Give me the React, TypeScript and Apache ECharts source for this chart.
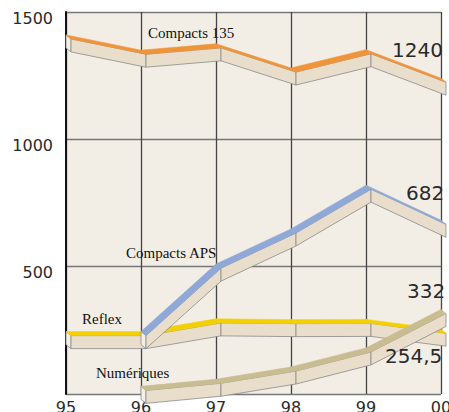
import React, { useEffect, useRef } from "react";
import * as echarts from "echarts";

const years = ["95", "96", "97", "98", "99", "00"];
const seriesNames = ["Compacts 135", "Reflex", "Numériques", "Compacts APS"];
const compacts135 = [1410, 1350, 1375, 1280, 1352, 1240];
const reflex = [245, 245, 295, 292, 293, 254.5];
const numeriques = [null, 30, 58, 106, 181, 332];
const compactsAPS = [null, 245, 510, 648, 820, 682];
const yTicks = [0, 500, 1000, 1500];

const allValues = [compacts135, reflex, numeriques, compactsAPS];
const topColors = ["#F0943A", "#F5D000", "#C8BC90", "#8FA8D8"];

const nameLabelPos: [number, number][] = [
  [148, 33],
  [82, 319],
  [96, 373],
  [126, 253],
];
const valueLabelPos: [number, number][] = [
  [392, 50],
  [385, 356],
  [407, 291],
  [406, 193],
];

const fmt = (v: number) => String(v).replace(".", ",");

function buildItems(vals: (number | null)[]) {
  const items: number[][] = [];
  const first = vals.findIndex((v) => v != null);
  items.push([first, vals[first] as number, first, vals[first] as number, 1]);
  for (let i = 0; i < vals.length - 1; i++) {
    if (vals[i] != null && vals[i + 1] != null) {
      items.push([i, vals[i] as number, i + 1, vals[i + 1] as number, 0]);
    }
  }
  return items;
}

export default function App() {
  const ref = useRef<HTMLDivElement>(null);
  useEffect(() => {
    if (!ref.current) return;
    const chart = echarts.init(ref.current, null, { renderer: "svg" });
    const DX = 5;
    const DY = 4;
    const H = 13;

    const customSeries = allValues.map((vals, si) => ({
      type: "custom",
      name: seriesNames[si],
      clip: false,
      z: 3 + si,
      encode: { x: [0, 2], y: [1, 3] },
      data: buildItems(vals),
      renderItem: (params: any, api: any) => {
        const p0 = api.coord([api.value(0), api.value(1)]);
        const p1 = api.coord([api.value(2), api.value(3)]);
        const kind = api.value(4);
        if (kind === 1) {
          return {
            type: "polygon",
            shape: {
              points: [
                [p0[0], p0[1]],
                [p0[0] + DX, p0[1] + DY],
                [p0[0] + DX, p0[1] + DY + H],
                [p0[0], p0[1] + H],
              ],
            },
            style: { fill: "#F4EFE5", stroke: "#8a8a8a", lineWidth: 0.8 },
          };
        }
        return {
          type: "group",
          children: [
            {
              type: "polygon",
              shape: {
                points: [
                  [p0[0] + DX, p0[1] + DY],
                  [p1[0] + DX, p1[1] + DY],
                  [p1[0] + DX, p1[1] + DY + H],
                  [p0[0] + DX, p0[1] + DY + H],
                ],
              },
              style: { fill: "#E8DECB", stroke: "#8a8a8a", lineWidth: 0.8 },
            },
            {
              type: "polygon",
              shape: {
                points: [
                  [p0[0], p0[1]],
                  [p1[0], p1[1]],
                  [p1[0] + DX, p1[1] + DY],
                  [p0[0] + DX, p0[1] + DY],
                ],
              },
              style: { fill: topColors[si], stroke: topColors[si], lineWidth: 0.6 },
            },
          ],
        };
      },
    }));

    const graphics: any[] = [];
    allValues.forEach((vals, si) => {
      graphics.push({
        type: "text",
        x: nameLabelPos[si][0],
        y: nameLabelPos[si][1],
        z: 100,
        style: {
          text: seriesNames[si],
          font: '15px "Liberation Serif", "Times New Roman", serif',
          fill: "#111",
          verticalAlign: "middle",
          align: "left",
        },
      });
      graphics.push({
        type: "text",
        x: valueLabelPos[si][0],
        y: valueLabelPos[si][1],
        z: 100,
        style: {
          text: fmt(vals[vals.length - 1] as number),
          font: '20px "DejaVu Sans", sans-serif',
          fill: "#2a2a2a",
          verticalAlign: "middle",
          align: "left",
        },
      });
    });

    chart.setOption({
      animation: false,
      backgroundColor: "#ffffff",
      grid: {
        left: 66,
        top: 12,
        right: 8,
        bottom: 18,
        show: true,
        containLabel: false,
        outerBoundsMode: "none",
        backgroundColor: "#F2EEE6",
        borderWidth: 0,
      },
      xAxis: {
        type: "category",
        data: years,
        boundaryGap: false,
        axisLine: { show: false },
        axisTick: { show: false },
        splitLine: { show: true, lineStyle: { color: "#444", width: 1.3 } },
        axisLabel: {
          margin: 5,
          color: "#2a2a2a",
          fontSize: 16,
          fontFamily: "DejaVu Sans",
          interval: 0,
        },
      },
      yAxis: {
        type: "value",
        min: yTicks[0],
        max: yTicks[yTicks.length - 1],
        interval: 500,
        axisLine: { show: true, lineStyle: { color: "#111", width: 2 } },
        axisTick: { show: false },
        splitLine: { show: true, lineStyle: { color: "#777", width: 1.3 } },
        axisLabel: {
          margin: 13,
          color: "#2a2a2a",
          fontSize: 16,
          fontFamily: "DejaVu Sans",
          verticalAlign: "top",
          lineHeight: 12,
          formatter: (v: number) => (v === 0 ? "" : String(v)),
        },
      },
      series: customSeries,
      graphic: graphics,
    });
    return () => chart.dispose();
  }, []);
  return (
    <div
      ref={ref}
      style={{ position: "fixed", left: 0, top: 0, width: 449, height: 412 }}
    />
  );
}
